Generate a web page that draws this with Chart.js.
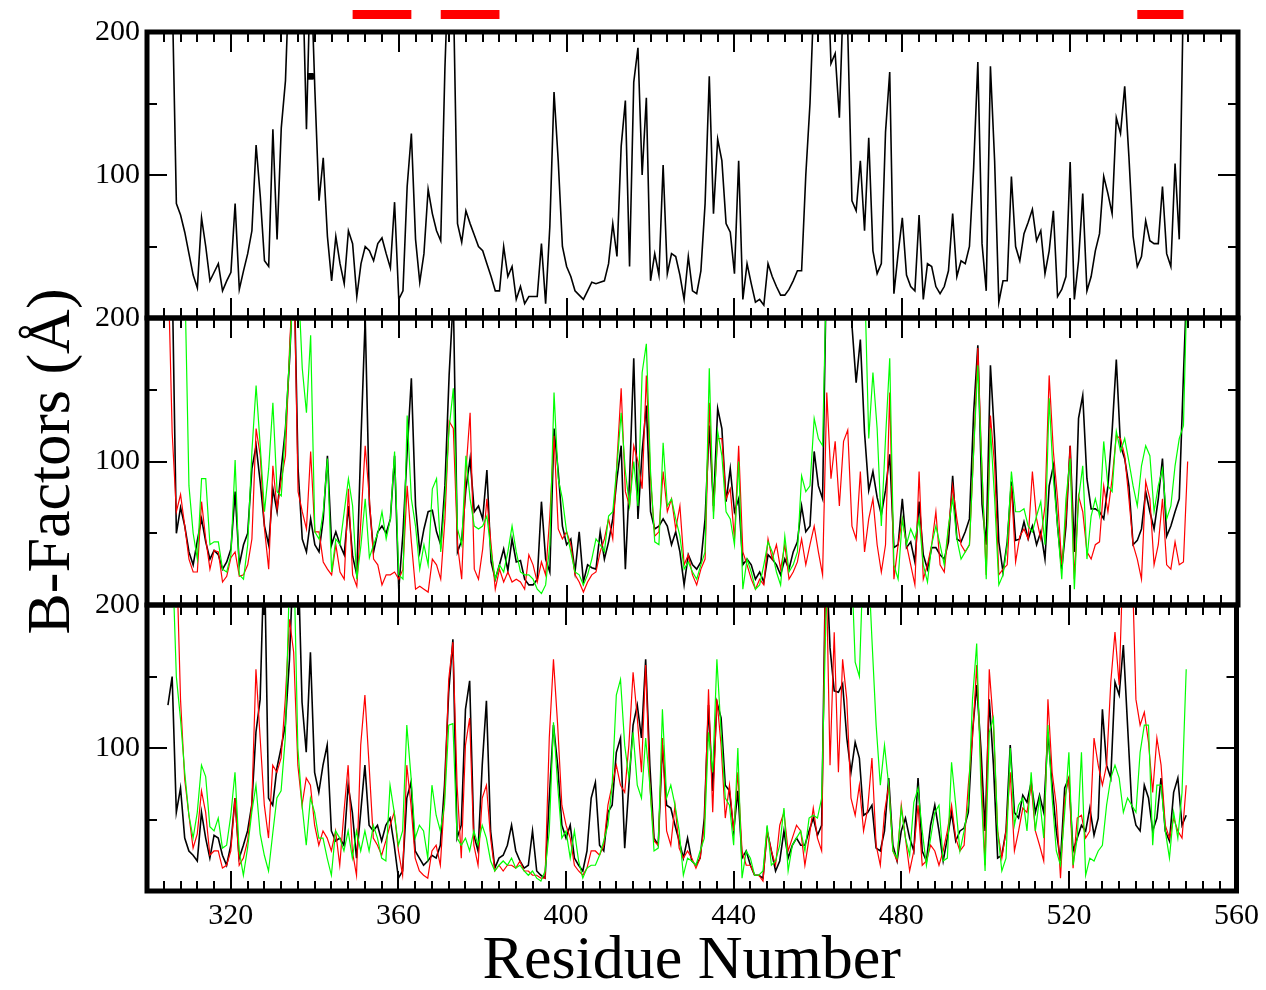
<!DOCTYPE html>
<html>
<head>
<meta charset="utf-8">
<title>B-Factors per residue</title>
<script src="https://cdn.jsdelivr.net/npm/chart.js@4.4.1/dist/chart.umd.min.js"></script>
<style>
  html, body { margin: 0; padding: 0; background: #fff; overflow: hidden; }
  #wrap { position: relative; width: 1266px; height: 990px; }
  #wrap canvas { position: absolute; left: 0; top: 0; }
</style>
</head>
<body>
<div id="wrap">
  <canvas id="panel1" width="1266" height="990"></canvas>
  <canvas id="panel2" width="1266" height="990"></canvas>
  <canvas id="panel3" width="1266" height="990"></canvas>
</div>
<script>
// residue numbers start at 305, one value per residue up to 548
const firstResidue = 305;
const xTickLabels = [320, 360, 400, 440, 480, 520, 560];
const yTickLabels = [100, 200];
const helixStart = [349, 370, 536];
const helixEnd = [363, 384, 547];
const markerResidue = [339];
const markerValue = [169];

// top panel (black only)
const topBlack = [
  null, 230, 80, 72, 60, 45, 30, 21, 70, 50,
  26, 32, 38, 19, 26, 32, 80, 20, 33, 45,
  61, 121, 85, 40, 36, 132, 55, 133, 166, 250,
  280, 280, 250, 132, 250, 160, 82, 112, 57, 26,
  57, 38, 24, 61, 52, 15, 38, 50, 47, 40,
  52, 56, 45, 35, 81, 13, 19, 92, 129, 55,
  25, 45, 90, 73, 61, 54, 175, 260, 230, 66,
  53, 75, 66, 58, 50, 47, 38, 29, 19, 19,
  50, 29, 36, 13, 22, 10, 15, 15, 15, 52,
  10, 64, 158, 110, 50, 36, 29, 19, 16, 13,
  19, 25, 24, 25, 26, 38, 66, 43, 120, 152,
  36, 165, 189, 100, 154, 26, 45, 30, 107, 31,
  45, 43, 30, 13, 43, 19, 17, 33, 80, 169,
  73, 125, 110, 66, 60, 31, 110, 13, 38, 24,
  11, 13, 9, 38, 29, 22, 16, 16, 20, 26,
  33, 33, 100, 150, 230, 260, 280, 260, 178, 185,
  140, 230, 200, 82, 75, 110, 61, 126, 47, 31,
  38, 130, 172, 17, 45, 70, 30, 22, 19, 72,
  13, 38, 36, 22, 17, 22, 33, 73, 29, 40,
  38, 50, 105, 179, 52, 19, 176, 110, 11, 26,
  26, 99, 50, 40, 59, 67, 76, 54, 61, 31,
  47, 75, 15, 20, 29, 109, 13, 40, 87, 19,
  29, 47, 59, 99, 87, 73, 140, 129, 162, 113,
  57, 36, 43, 68, 54, 52, 52, 92, 45, 36,
  108, 55, 230, null
];

// middle panel
const midBlack = [
  null, 230, 50, 68, 55, 37, 28, 45, 60, 44,
  32, 38, 35, 25, 30, 39, 79, 28, 42, 50,
  95, 111, 85, 55, 42, 81, 65, 95, 123, 172,
  240, 95, 46, 37, 60, 42, 37, 60, 104, 42,
  51, 42, 35, 69, 34, 21, 116, 200, 70, 37,
  51, 55, 50, 60, 104, 11, 50, 107, 158, 69,
  37, 53, 65, 66, 51, 42, 83, 160, 215, 37,
  45, 81, 102, 65, 69, 60, 94, 30, 18, 28,
  39, 24, 46, 30, 31, 18, 14, 14, 18, 72,
  32, 23, 123, 93, 55, 42, 46, 23, 51, 16,
  28, 26, 25, 51, 32, 44, 60, 88, 111, 25,
  88, 172, 60, 107, 139, 65, 53, 55, 60, 55,
  42, 51, 37, 14, 35, 28, 25, 30, 60, 125,
  69, 137, 123, 72, 95, 65, 74, 28, 32, 28,
  18, 23, 16, 35, 32, 28, 21, 32, 25, 37,
  44, 69, 51, 55, 107, 83, 74, 250, 250, 250,
  250, 250, 250, 195, 155, 185, 120, 80, 93, 75,
  63, 80, 105, 40, 42, 74, 40, 44, 30, 72,
  35, 25, 40, 40, 35, 32, 44, 90, 46, 44,
  51, 60, 134, 181, 70, 42, 167, 116, 44, 23,
  44, 86, 45, 46, 58, 46, 55, 42, 51, 32,
  83, 97, 55, 25, 55, 111, 37, 130, 146, 88,
  67, 67, 65, 60, 83, 121, 171, 111, 102, 83,
  42, 45, 53, 79, 65, 53, 74, 102, 48, 55,
  65, 74, 160, 240
];
const midRed = [
  240, 120, 65, 77, 55, 32, 23, 23, 72, 46,
  25, 38, 37, 16, 20, 33, 37, 20, 21, 28,
  46, 123, 104, 53, 25, 97, 67, 87, 104, 181,
  240, 79, 65, 53, 107, 51, 51, 30, 25, 21,
  42, 23, 18, 81, 21, 13, 60, 111, 74, 32,
  28, 14, 21, 21, 23, 18, 25, 83, 44, 11,
  13, 11, 9, 32, 28, 18, 60, 128, 123, 42,
  18, 93, 134, 25, 18, 39, 74, 42, 11, 25,
  16, 23, 16, 18, 16, 11, 35, 28, 16, 30,
  21, 62, 118, 53, 46, 51, 42, 21, 16, 9,
  16, 21, 23, 37, 46, 60, 46, 100, 151, 79,
  69, 111, 100, 81, 160, 88, 48, 51, 93, 65,
  74, 53, 69, 28, 35, 21, 14, 25, 32, 141,
  65, 116, 116, 74, 81, 46, 111, 37, 28, 18,
  11, 18, 14, 46, 32, 42, 25, 42, 18, 23,
  30, 46, 28, 42, 55, 37, 21, 148, 88, 114,
  69, 114, 122, 55, 46, 93, 37, 60, 74, 42,
  23, 42, 148, 18, 42, 60, 42, 28, 14, 93,
  18, 28, 42, 65, 28, 23, 53, 83, 60, 42,
  37, 42, 107, 179, 93, 21, 132, 97, 21, 25,
  28, 83, 30, 48, 53, 46, 93, 60, 46, 69,
  160, 107, 74, 28, 60, 111, 18, 76, 65, 37,
  32, 42, 44, 83, 65, 88, 118, 116, 104, 74,
  42, 32, 18, 86, 74, 28, 42, 74, 28, 25,
  44, 28, 30, 100
];
const midGreen = [
  null, null, null, null, 230, 83, 50, 32, 88, 88,
  42, 44, 44, 25, 23, 35, 101, 21, 18, 42,
  107, 153, 110, 65, 95, 141, 79, 76, 123, 175,
  230, 230, 165, 134, 188, 51, 46, 65, 102, 23,
  46, 42, 65, 88, 69, 18, 42, 74, 33, 42,
  50, 65, 46, 60, 107, 21, 18, 132, 74, 55,
  25, 42, 28, 81, 88, 37, 74, 123, 151, 53,
  42, 104, 74, 55, 53, 55, 62, 37, 18, 28,
  23, 37, 55, 37, 23, 21, 21, 18, 11, 8,
  14, 42, 148, 88, 74, 51, 37, 23, 21, 14,
  21, 32, 46, 42, 37, 62, 65, 97, 134, 93,
  69, 100, 69, 162, 182, 93, 44, 42, 113, 69,
  74, 60, 48, 25, 30, 23, 18, 28, 37, 165,
  60, 121, 104, 65, 60, 42, 100, 11, 32, 23,
  11, 14, 28, 44, 37, 23, 14, 48, 23, 28,
  37, 90, 79, 83, 130, 116, 111, 240, 240, 240,
  240, 240, 240, 240, 240, 240, 230, 116, 162, 123,
  55, 116, 172, 28, 18, 60, 42, 53, 46, 60,
  28, 16, 42, 55, 42, 28, 55, 74, 46, 32,
  37, 42, 107, 167, 93, 18, 123, 74, 14, 21,
  42, 93, 65, 65, 67, 55, 51, 62, 72, 42,
  144, 88, 55, 18, 74, 102, 11, 74, 97, 32,
  62, 74, 62, 114, 83, 79, 121, 107, 116, 100,
  83, 69, 97, 111, 104, 65, 83, 95, 60, 69,
  97, 116, 125, 240
];

// bottom panel
const lowBlack = [
  130, 150, 55, 72, 37, 28, 25, 21, 55, 37,
  23, 39, 37, 25, 18, 32, 65, 23, 32, 42,
  60, 111, 134, 240, 65, 60, 86, 100, 116, 162,
  240, 240, 132, 97, 167, 83, 69, 88, 102, 42,
  35, 37, 32, 74, 55, 23, 55, 88, 46, 42,
  46, 35, 46, 51, 32, 9, 14, 65, 76, 28,
  23, 18, 21, 25, 23, 32, 74, 139, 176, 37,
  46, 127, 147, 39, 28, 88, 133, 42, 16, 23,
  25, 32, 46, 28, 21, 16, 18, 42, 14, 11,
  9, 65, 116, 88, 46, 37, 46, 23, 18, 14,
  28, 65, 76, 32, 28, 55, 60, 97, 107, 30,
  74, 116, 130, 107, 162, 88, 37, 32, 102, 60,
  58, 46, 35, 23, 37, 21, 18, 23, 51, 130,
  70, 132, 121, 74, 70, 42, 70, 23, 28, 18,
  11, 11, 9, 42, 28, 14, 21, 42, 23, 32,
  37, 32, 32, 42, 51, 39, 46, 240, 170, 140,
  139, 145, 107, 83, 104, 93, 53, 55, 60, 30,
  28, 42, 79, 32, 21, 42, 51, 37, 28, 79,
  28, 21, 46, 60, 42, 21, 37, 55, 35, 42,
  44, 55, 111, 144, 100, 42, 134, 88, 23, 25,
  42, 102, 55, 51, 67, 62, 76, 55, 67, 55,
  111, 74, 42, 21, 72, 79, 28, 37, 46, 42,
  58, 39, 51, 127, 88, 79, 146, 137, 172, 116,
  60, 46, 42, 74, 65, 42, 51, 79, 42, 35,
  69, 79, 46, 53
];
const lowRed = [
  null, null, 240, 134, 78, 53, 30, 40, 70, 55,
  25, 28, 28, 16, 18, 28, 65, 18, 23, 35,
  60, 155, 107, 60, 37, 88, 83, 93, 134, 190,
  167, 88, 60, 79, 74, 46, 32, 42, 37, 28,
  42, 18, 55, 88, 28, 11, 102, 137, 88, 37,
  32, 25, 35, 46, 55, 28, 11, 88, 60, 23,
  14, 11, 9, 28, 32, 18, 65, 148, 174, 74,
  23, 102, 121, 32, 18, 65, 74, 37, 14, 18,
  14, 18, 18, 16, 21, 14, 14, 11, 11, 9,
  9, 107, 162, 116, 60, 46, 37, 18, 14, 11,
  16, 28, 28, 25, 32, 60, 74, 88, 74, 69,
  102, 153, 121, 83, 158, 74, 35, 32, 107, 42,
  32, 60, 30, 23, 28, 23, 16, 23, 46, 141,
  55, 134, 102, 51, 74, 42, 83, 28, 18, 18,
  11, 11, 7, 42, 28, 18, 46, 55, 28, 37,
  46, 42, 18, 37, 58, 37, 28, 240, 88, 181,
  83, 162, 134, 65, 53, 74, 42, 58, 93, 32,
  18, 55, 74, 28, 21, 60, 37, 14, 28, 60,
  18, 21, 32, 28, 18, 28, 42, 60, 37, 28,
  32, 74, 107, 158, 88, 18, 155, 116, 42, 23,
  42, 83, 28, 42, 58, 55, 74, 42, 32, 21,
  134, 83, 60, 9, 65, 79, 16, 51, 53, 37,
  42, 107, 88, 74, 88, 146, 181, 144, 240, 240,
  240, 134, 116, 125, 104, 69, 107, 88, 46, 37,
  51, 42, 37, 74
];
const lowGreen = [
  null, 240, 150, 120, 83, 53, 37, 55, 88, 80,
  45, 42, 51, 30, 32, 53, 83, 28, 11, 30,
  55, 74, 40, 25, 14, 40, 65, 70, 107, 220,
  240, 100, 60, 32, 65, 55, 37, 37, 23, 11,
  42, 37, 28, 42, 23, 42, 28, 42, 28, 46,
  37, 23, 21, 74, 55, 32, 42, 116, 80, 37,
  46, 42, 23, 74, 53, 42, 60, 116, 117, 37,
  32, 37, 28, 42, 32, 46, 37, 21, 14, 18,
  21, 18, 23, 16, 18, 14, 11, 14, 9, 7,
  14, 42, 118, 74, 37, 42, 23, 42, 21, 9,
  16, 18, 18, 25, 35, 46, 74, 137, 148, 102,
  79, 111, 74, 65, 107, 74, 28, 30, 127, 65,
  74, 60, 42, 11, 23, 21, 18, 28, 37, 111,
  83, 162, 111, 65, 60, 32, 100, 9, 28, 23,
  11, 11, 14, 46, 18, 21, 32, 58, 14, 32,
  37, 42, 28, 51, 53, 51, 65, 190, 240, 240,
  240, 240, 240, 240, 160, 150, 240, 240, 176, 116,
  74, 102, 74, 28, 23, 58, 37, 25, 62, 72,
  42, 18, 37, 55, 60, 21, 23, 90, 60, 28,
  42, 60, 134, 173, 74, 14, 111, 121, 42, 14,
  23, 100, 46, 60, 65, 42, 83, 42, 65, 37,
  116, 65, 28, 18, 55, 97, 18, 37, 97, 11,
  23, 21, 28, 32, 60, 79, 88, 79, 55, 65,
  60, 55, 97, 116, 116, 32, 74, 74, 42, 23,
  55, 37, 69, 155
];

const serif = 'Liberation Serif, Times New Roman, serif';

function toPoints(values) {
  return values.map(function (v, i) { return { x: firstResidue + i, y: v }; });
}

function lineSet(values, color, width, order) {
  return {
    data: toPoints(values),
    borderColor: color,
    borderWidth: width,
    pointRadius: 0,
    tension: 0,
    fill: false,
    spanGaps: false,
    order: order
  };
}

// inward ticks on all four sides + heavy frame
const framePlugin = {
  id: 'frame',
  afterDatasetsDraw: function (chart) {
    const ctx = chart.ctx;
    const a = chart.chartArea;
    const x = chart.scales.x;
    const y = chart.scales.y;
    ctx.save();
    ctx.strokeStyle = '#000';
    ctx.lineWidth = 2;
    ctx.beginPath();
    for (let v = 300; v <= 560; v += 4) {
      const px = Math.round(x.getPixelForValue(v));
      const len = v % 40 === 0 ? 20 : 10;
      ctx.moveTo(px, a.top);
      ctx.lineTo(px, a.top + len);
      ctx.moveTo(px, a.bottom);
      ctx.lineTo(px, a.bottom - len);
    }
    for (let v = 50; v < 200; v += 50) {
      const py = Math.round(y.getPixelForValue(v));
      const len = v % 100 === 0 ? 20 : 10;
      ctx.moveTo(a.left, py);
      ctx.lineTo(a.left + len, py);
      ctx.moveTo(a.right, py);
      ctx.lineTo(a.right - len, py);
    }
    ctx.stroke();
    ctx.lineWidth = 5;
    ctx.strokeRect(a.left, a.top, a.right - a.left, a.bottom - a.top);
    ctx.restore();
  }
};

// red bars above the top panel
const helixPlugin = {
  id: 'helix',
  afterDraw: function (chart) {
    const ctx = chart.ctx;
    const x = chart.scales.x;
    const top = chart.chartArea.top;
    ctx.save();
    ctx.fillStyle = '#ff0000';
    for (let i = 0; i < helixStart.length; i++) {
      const x0 = x.getPixelForValue(helixStart[i]);
      const x1 = x.getPixelForValue(helixEnd[i]);
      ctx.fillRect(x0, top - 22, x1 - x0, 9);
    }
    ctx.restore();
  }
};

function makePanel(id, datasets, cfg) {
  return new Chart(document.getElementById(id), {
    type: 'line',
    data: { datasets: datasets },
    options: {
      responsive: false,
      animation: false,
      events: [],
      layout: { padding: { top: cfg.top, bottom: cfg.bottom, left: 0, right: 28 } },
      plugins: { legend: { display: false }, tooltip: { enabled: false } },
      scales: {
        x: {
          type: 'linear',
          min: 300,
          max: 560,
          display: cfg.showX,
          afterBuildTicks: function (s) { s.ticks = xTickLabels.map(function (v) { return { value: v }; }); },
          afterFit: function (s) { s.height = cfg.showX ? 99 : 0; },
          grid: { display: false, drawTicks: false },
          border: { display: false },
          ticks: {
            autoSkip: false,
            maxRotation: 0,
            padding: 7,
            color: '#000',
            font: { family: serif, size: 30 }
          },
          title: {
            display: cfg.showX,
            text: 'Residue Number',
            color: '#000',
            padding: { top: 0, bottom: 0 },
            font: { family: serif, size: 62, lineHeight: 0.9 }
          }
        },
        y: {
          min: 0,
          max: 200,
          afterBuildTicks: function (s) { s.ticks = yTickLabels.map(function (v) { return { value: v }; }); },
          afterFit: function (s) { s.width = 147; },
          grid: { display: false, drawTicks: false },
          border: { display: false },
          ticks: { padding: 7, color: '#000', font: { family: serif, size: 30 } },
          title: {
            display: cfg.showYTitle,
            text: 'B-Factors (Å)',
            color: '#000',
            padding: { top: 25, bottom: 0 },
            font: { family: serif, size: 62, lineHeight: 0.9 }
          }
        }
      }
    },
    plugins: cfg.plugins
  });
}

const marker = {
  data: markerResidue.map(function (r, i) { return { x: r, y: markerValue[i] }; }),
  showLine: false,
  pointStyle: 'rect',
  pointRadius: 4,
  backgroundColor: '#000',
  borderColor: '#000',
  order: 0
};

makePanel('panel1', [lineSet(topBlack, '#000000', 1.6, 1), marker],
  { top: 32, bottom: 672, showX: false, showYTitle: false, plugins: [framePlugin, helixPlugin] });

makePanel('panel2', [
  lineSet(midBlack, '#000000', 1.6, 3),
  lineSet(midRed, '#ff0000', 1.2, 2),
  lineSet(midGreen, '#00ff00', 1.2, 1)
], { top: 318, bottom: 385, showX: false, showYTitle: true, plugins: [framePlugin] });

makePanel('panel3', [
  lineSet(lowBlack, '#000000', 1.6, 3),
  lineSet(lowRed, '#ff0000', 1.2, 2),
  lineSet(lowGreen, '#00ff00', 1.2, 1)
], { top: 605, bottom: 0, showX: true, showYTitle: false, plugins: [framePlugin] });
</script>
</body>
</html>
